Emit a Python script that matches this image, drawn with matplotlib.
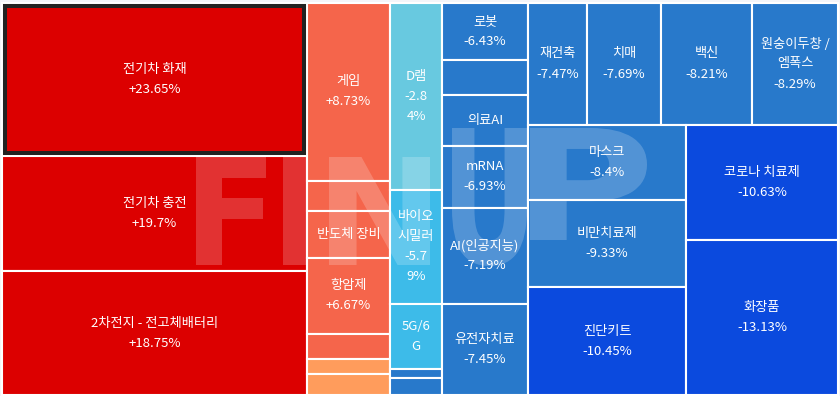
import matplotlib.pyplot as plt
from matplotlib.patches import Rectangle, PathPatch
from matplotlib.textpath import TextPath
from matplotlib.font_manager import FontProperties
from matplotlib.transforms import Affine2D

# theme labels as shown in each cell (wrapped the way the chart wraps them)
labels = [
    "전기차 화재\n+23.65%",
    "전기차 충전\n+19.7%",
    "2차전지 - 전고체배터리\n+18.75%",
    "게임\n+8.73%",
    "",
    "반도체 장비",
    "항암제\n+6.67%",
    "", "", "",
    "D램\n-2.8\n4%",
    "바이오\n시밀러\n-5.7\n9%",
    "5G/6\nG",
    "", "",
    "로봇\n-6.43%",
    "",
    "의료AI",
    "mRNA\n-6.93%",
    "AI(인공지능)\n-7.19%",
    "유전자치료\n-7.45%",
    "재건축\n-7.47%",
    "치매\n-7.69%",
    "백신\n-8.21%",
    "원숭이두창 /\n엠폭스\n-8.29%",
    "마스크\n-8.4%",
    "비만치료제\n-9.33%",
    "진단키트\n-10.45%",
    "코로나 치료제\n-10.63%",
    "화장품\n-13.13%",
]

# change rate (%), hidden cells estimated from their colour / order
changes = [23.65, 19.7, 18.75, 8.73, 8.1, 7.4, 6.67, 5.6, 3.9, 2.1,
           -2.84, -5.79, -5.95, -6.2, -6.35, -6.43, -6.6, -6.8, -6.93, -7.19,
           -7.45, -7.47, -7.69, -8.21, -8.29, -8.4, -9.33, -10.45, -10.63, -13.13]

# relative cell sizes
sizes = [466.7, 350.8, 378.2,
         147.7, 24.9, 39.0, 63.1, 20.8, 12.5, 17.4,
         97.2, 59.3, 33.8, 4.7, 8.8,
         49.0, 30.1, 43.9, 53.3, 82.6, 78.3,
         72.0, 90.3, 111.0, 104.9,
         118.5, 137.5, 170.6,
         174.8,
         235.6]

# how many items go into each strip of the layout
strips = [3, 7, 5, 6, 4, 3, 1, 1]


def color_for(c):
    if c >= 10:
        return "#dc0000"
    if c >= 5:
        return "#f5654b"
    if c >= 0:
        return "#ff9c5c"
    if c > -5:
        return "#68c9e0"
    if c > -6:
        return "#3dbbe9"
    if c > -10:
        return "#2879cb"
    return "#0b4ade"


def layout(values, counts, x, y, w, h):
    scale = w * h / sum(values)
    areas = [v * scale for v in values]
    rects = []
    i = 0
    for n in counts:
        group = areas[i:i + n]
        tot = sum(group)
        if w >= h:
            cw = tot / h
            yy = y
            for a in group:
                rh = a / cw
                rects.append((x, yy, cw, rh))
                yy += rh
            x += cw
            w -= cw
        else:
            rh = tot / w
            xx = x
            for a in group:
                rw = a / rh
                rects.append((xx, y, rw, rh))
                xx += rw
            y += rh
            h -= rh
        i += n
    return rects


fig = plt.figure(figsize=(8.4, 3.96), dpi=100, facecolor="#f4f5f9")
ax = fig.add_axes([0, 0, 1, 1])
ax.set_xlim(0, 840)
ax.set_ylim(396, 0)
ax.axis("off")

rects = layout(sizes, strips, 2, 3, 836, 392)
font = ["Noto Sans CJK KR", "DejaVu Sans"]

for (x, y, w, h), lab, c in zip(rects, labels, changes):
    ax.add_patch(Rectangle((x, y), w, h, facecolor=color_for(c),
                           edgecolor="white", linewidth=1.5, zorder=1))
    if lab:
        lines = lab.split("\n")
        cy = y + h / 2
        for k, line in enumerate(lines):
            ax.text(x + w / 2, cy + (k - (len(lines) - 1) / 2) * 20, line,
                    ha="center", va="center", color="white",
                    fontsize=9.5, family=font, zorder=4)

# highlighted (selected) cell
x, y, w, h = rects[0]
ax.add_patch(Rectangle((x + 3, y + 3), w - 6, h - 6, facecolor="none",
                       edgecolor="#222222", linewidth=2.9, zorder=3))

# FINUP watermark, one letter at a time
wm = [("F", 196, 266, 157, 265), ("I", 283, 306, 157, 265),
      ("N", 329, 430, 157, 265), ("U", 452, 527, 128, 266),
      ("P", 530, 647, 128, 240)]
fp = FontProperties(family="DejaVu Sans", weight="bold")
for ch, x0, x1, y0, y1 in wm:
    tp = TextPath((0, 0), ch, size=100, prop=fp)
    bb = tp.get_extents()
    tr = (Affine2D().translate(-bb.x0, -bb.y0)
          .scale((x1 - x0) / bb.width, -(y1 - y0) / bb.height)
          .translate(x0, y1))
    ax.add_patch(PathPatch(tp, transform=tr + ax.transData,
                           facecolor="white", edgecolor="none",
                           alpha=0.2, zorder=2))

fig.savefig("out.png", dpi=100, facecolor=fig.get_facecolor())
